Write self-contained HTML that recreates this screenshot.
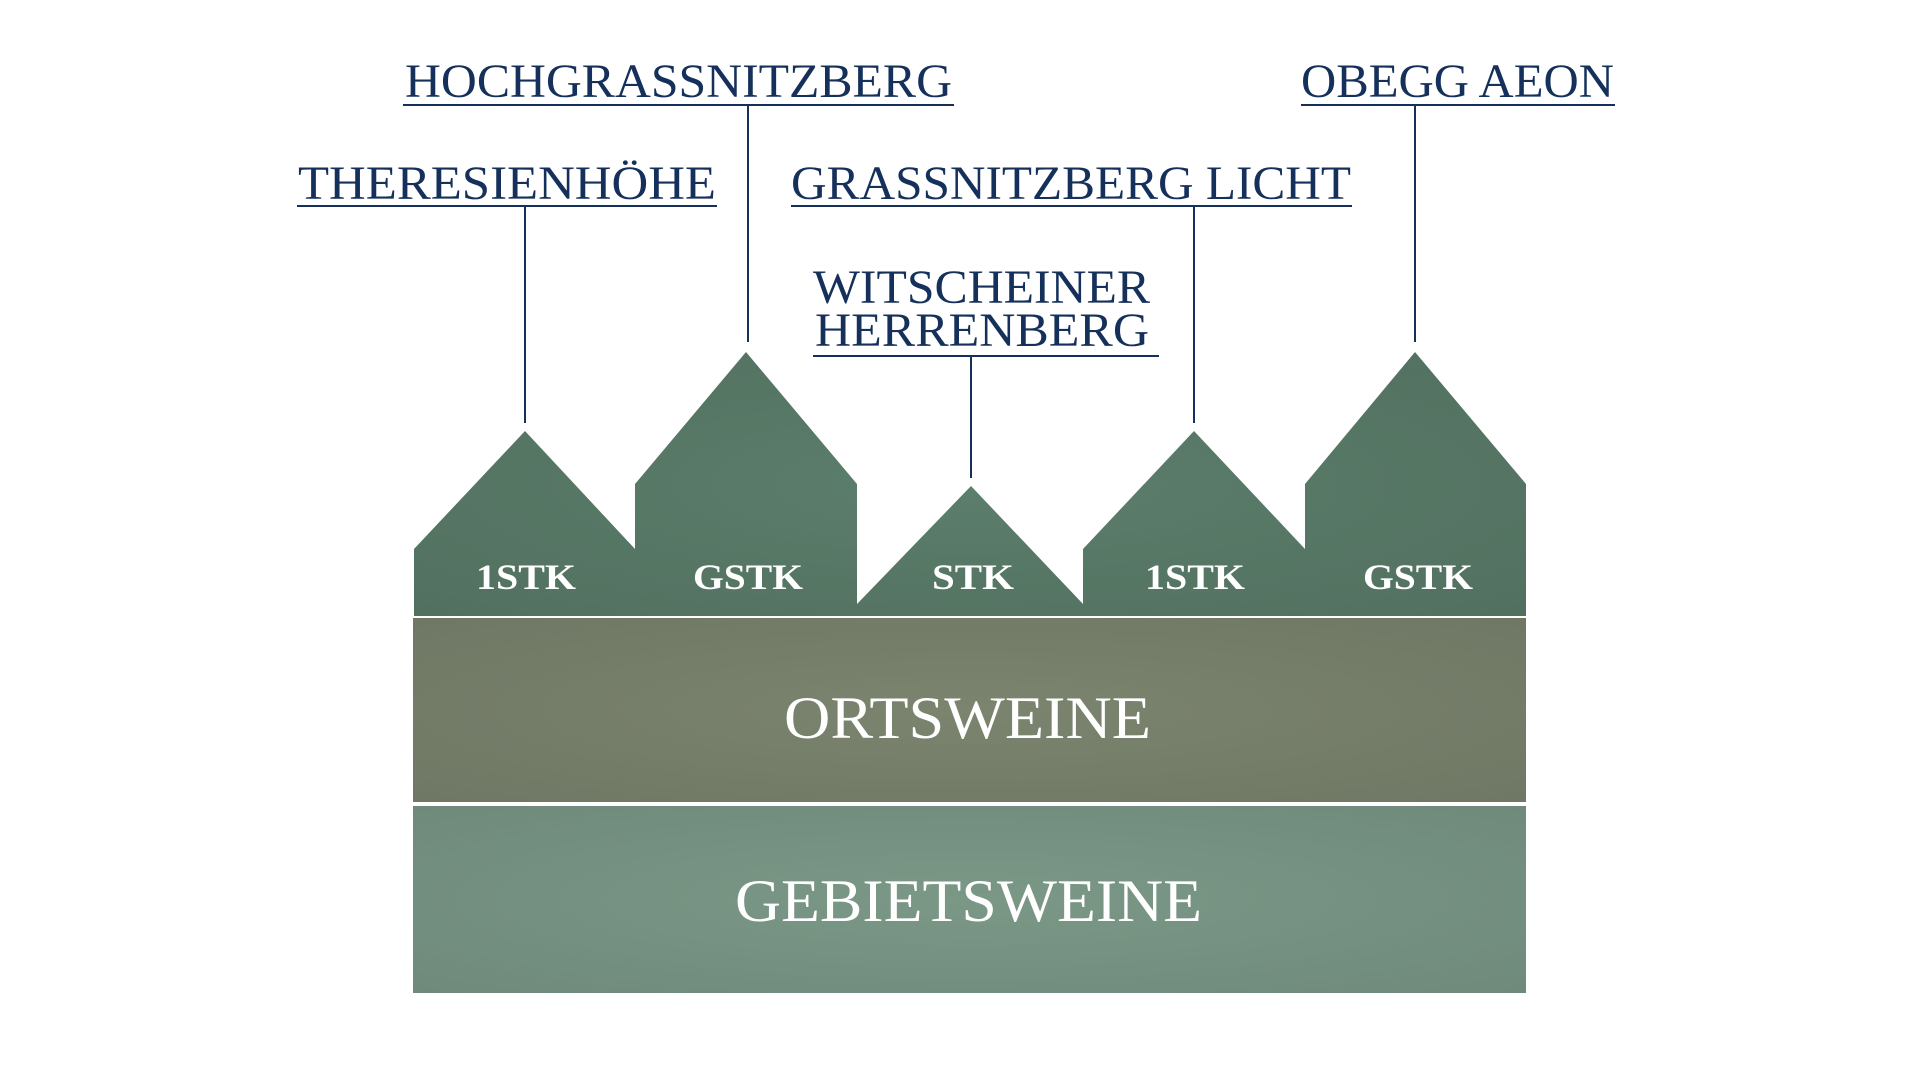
<!DOCTYPE html>
<html><head><meta charset="utf-8"><style>
html,body{margin:0;padding:0;background:#fff;width:1920px;height:1080px;overflow:hidden}
svg{display:block}
.n{font-family:"Liberation Serif",serif;fill:#15305a;font-size:48px}
.h{font-family:"Liberation Serif",serif;fill:#fff;font-size:36px;font-weight:bold;text-anchor:middle}
.b{font-family:"Liberation Serif",serif;fill:#fff;font-size:60px}
</style></head><body>
<svg width="1920" height="1080" viewBox="0 0 1920 1080" xmlns="http://www.w3.org/2000/svg">
<defs>
<radialGradient id="g1" cx="50%" cy="50%" r="70%"><stop offset="0" stop-color="#5c7e6c"/><stop offset="1" stop-color="#52705f"/></radialGradient>
<radialGradient id="g2" cx="50%" cy="50%" r="70%"><stop offset="0" stop-color="#7b846e"/><stop offset="1" stop-color="#6f7864"/></radialGradient>
<radialGradient id="g3" cx="50%" cy="50%" r="70%"><stop offset="0" stop-color="#7b9887"/><stop offset="1" stop-color="#6f8a7b"/></radialGradient>
</defs>
<path fill="url(#g1)" d="M414 549 L525 431 L635 549 L635 484 L746 352 L857 484 L857 604 L971 486 L1083 604 L1083 549 L1194 431 L1305 549 L1305 484 L1415 352 L1526 484 L1526 616 L414 616 Z"/>
<rect x="413" y="618" width="1113" height="184" fill="url(#g2)"/>
<rect x="413" y="806" width="1113" height="187" fill="url(#g3)"/>
<g class="h">
<text x="526" y="589" textLength="100" lengthAdjust="spacingAndGlyphs">1STK</text>
<text x="748" y="589" textLength="110" lengthAdjust="spacingAndGlyphs">GSTK</text>
<text x="973" y="589" textLength="82" lengthAdjust="spacingAndGlyphs">STK</text>
<text x="1195" y="589" textLength="100" lengthAdjust="spacingAndGlyphs">1STK</text>
<text x="1418" y="589" textLength="110" lengthAdjust="spacingAndGlyphs">GSTK</text>
</g>
<text class="b" x="784" y="738" textLength="367" lengthAdjust="spacingAndGlyphs">ORTSWEINE</text>
<text class="b" x="735" y="921" textLength="467" lengthAdjust="spacingAndGlyphs">GEBIETSWEINE</text>
<g class="n">
<text x="405" y="97" textLength="547" lengthAdjust="spacingAndGlyphs">HOCHGRASSNITZBERG</text>
<text x="298" y="199" textLength="418" lengthAdjust="spacingAndGlyphs">THERESIENHÖHE</text>
<text x="791" y="199" textLength="560" lengthAdjust="spacingAndGlyphs">GRASSNITZBERG LICHT</text>
<text x="813" y="303" textLength="337" lengthAdjust="spacingAndGlyphs">WITSCHEINER</text>
<text x="815" y="346" textLength="334" lengthAdjust="spacingAndGlyphs">HERRENBERG</text>
<text x="1301" y="97" textLength="313" lengthAdjust="spacingAndGlyphs">OBEGG AEON</text>
</g>
<g stroke="#15305a" stroke-width="2" fill="none">
<line x1="403" y1="105" x2="954" y2="105"/>
<line x1="748" y1="105" x2="748" y2="342"/>
<line x1="297" y1="206" x2="717" y2="206"/>
<line x1="525" y1="206" x2="525" y2="423"/>
<line x1="791" y1="206" x2="1352" y2="206"/>
<line x1="1194" y1="206" x2="1194" y2="423"/>
<line x1="813" y1="356" x2="1159" y2="356"/>
<line x1="971" y1="356" x2="971" y2="478"/>
<line x1="1301" y1="105" x2="1615" y2="105"/>
<line x1="1415" y1="105" x2="1415" y2="342"/>
</g>
</svg>
</body></html>
